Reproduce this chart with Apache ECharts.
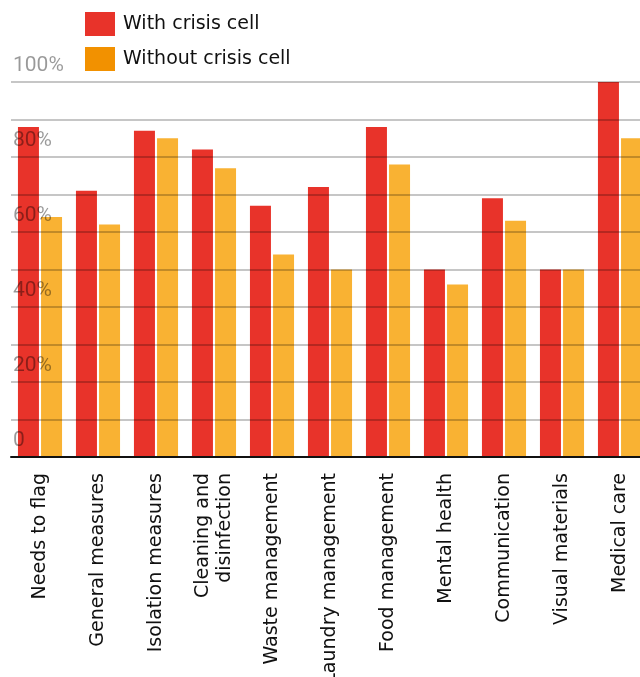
<!DOCTYPE html>
<html>
<head>
<meta charset="utf-8">
<script src="https://cdn.jsdelivr.net/npm/echarts@6/dist/echarts.min.js"></script>
<style>
  html, body { margin: 0; padding: 0; background: #fff; }
  #main { width: 640px; height: 677px; }
</style>
</head>
<body>
<div id="main"></div>
<script>
  // categories along the x axis
  var categories = [
    'Needs to flag',
    'General measures',
    'Isolation measures',
    'Cleaning and\ndisinfection',
    'Waste management',
    'Laundry management',
    'Food management',
    'Mental health',
    'Communication',
    'Visual materials',
    'Medical care'
  ]
  // percentages
  var withCell = [88, 71, 87, 82, 67, 72, 88, 50, 69, 50, 100]
  var withoutCell = [64, 62, 85, 77, 54, 50, 78, 46, 63, 50, 85]
  var seriesNames = ['With crisis cell', 'Without crisis cell']

  var chart = echarts.init(document.getElementById('main'))
  var font = 'DejaVu Sans'

  var options = {
    animation: false,
    textStyle: { fontFamily: font },
    legend: {
      orient: 'vertical',
      left: 85,
      top: 12,
      padding: 0,
      itemWidth: 30,
      itemHeight: 24,
      itemGap: 11,
      textStyle: { fontSize: 19, color: '#111', padding: [0, 0, 0, 3] },
      data: [
        { name: seriesNames[0], icon: 'rect', itemStyle: { color: '#e8332a' } },
        { name: seriesNames[1], icon: 'rect', itemStyle: { color: '#f29100' } }
      ]
    },
    grid: {
      left: 11,
      top: 82,
      width: 638,
      height: 375,
      outerBoundsMode: 'none'
    },
    xAxis: {
      type: 'category',
      data: categories,
      z: 10,
      axisLine: { lineStyle: { color: '#111', width: 2 } },
      axisTick: { show: false },
      axisLabel: {
        rotate: 90,
        interval: 0,
        margin: 16,
        fontSize: 19,
        color: '#111',
        lineHeight: 22
      }
    },
    yAxis: {
      type: 'value',
      min: 0,
      max: 100,
      interval: 10,
      z: 10,
      axisLine: { show: false },
      axisTick: { show: false },
      splitLine: { lineStyle: { color: 'rgba(0,0,0,0.3)', width: 1.5 } },
      axisLabel: {
        inside: true,
        margin: 2,
        fontSize: 21,
        fontFamily: 'Roboto',
        color: 'rgba(0,0,0,0.4)',
        verticalAlign: 'bottom',
        padding: [0, 0, 6, 0],
        formatter: function (v) {
          if (v % 20) return ''
          return v === 0 ? '0' : v + '%'
        }
      }
    },
    series: [
      {
        name: seriesNames[0],
        type: 'bar',
        barWidth: 21,
        barGap: '10%',
        itemStyle: { color: '#e8332a' },
        data: withCell
      },
      {
        name: seriesNames[1],
        type: 'bar',
        barWidth: 21,
        itemStyle: { color: '#f9b233' },
        data: withoutCell
      }
    ]
  }

  chart.setOption(options)
</script>
</body>
</html>
